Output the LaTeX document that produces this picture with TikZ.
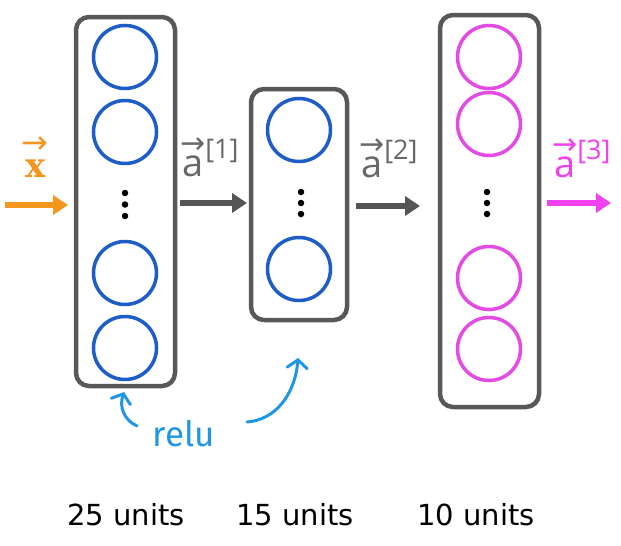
\documentclass[tikz,border=0pt]{standalone}
\usepackage{fontspec}
\setmainfont{Open Sans}
\newfontfamily\unitfont{DejaVu Sans}
\newfontfamily\arrowfont{DejaVu Sans}
\newfontfamily\xfont{DejaVu Serif}
\newfontfamily\relufont{Fira Sans}
\usetikzlibrary{arrows.meta}
\definecolor{boxgray}{RGB}{88,88,88}
\definecolor{arrgray}{RGB}{85,85,85}
\definecolor{labgray}{RGB}{104,104,104}
\definecolor{nblue}{RGB}{30,92,200}
\definecolor{nmag}{RGB}{228,74,228}
\definecolor{amag}{RGB}{240,64,240}
\definecolor{aorange}{RGB}{245,150,30}
\definecolor{rblue}{RGB}{32,150,230}
% letter with a small vector arrow above: {raise}{arrow size}{letter}
\newcommand{\vecover}[3]{\ooalign{#3\cr\hidewidth\raisebox{#1}{\arrowfont\mdseries\fontsize{#2}{#2}\selectfont →}\hidewidth\cr}}
\newcommand{\layersup}[1]{\kern2pt\raisebox{18pt}{\fontsize{27}{27}\selectfont[#1]}}
\tikzset{
  layerbox/.style={draw=boxgray, line width=4.5pt, rounded corners=13pt, inner sep=0pt, outer sep=0pt},
  neuron/.style={circle, draw=#1, line width=3.5pt, minimum size=63pt, inner sep=0pt},
  vdot/.style={circle, fill=black, inner sep=0pt, minimum size=6.5pt},
  bigarrow/.style={draw=#1, line width=6pt, -{Triangle[length=15pt,width=19pt]}, fill=#1},
  reluarrow/.style={draw=rblue, line width=3pt, line cap=round, -{Straight Barb[length=8pt,width=20pt,line cap=round]}},
  veclabel/.style={anchor=base west, inner sep=0pt, font=\fontsize{38}{38}\selectfont},
  unitlabel/.style={anchor=base, inner sep=0pt, font=\unitfont\fontsize{29}{29}\selectfont},
}
\begin{document}
\begin{tikzpicture}[x=1pt,y=-1pt]
\useasboundingbox[fill=white] (0,0) rectangle (621,546);
% layer boxes
\node[layerbox, minimum width=99pt, minimum height=369pt] (L1) at (125.5,201.5) {};
\node[layerbox, minimum width=96pt, minimum height=231pt] (L2) at (299,204.5) {};
\node[layerbox, minimum width=99pt, minimum height=392pt] (L3) at (489.5,211) {};
% neurons layer 1
\node[neuron=nblue] (n11) at (125,57) {};
\node[neuron=nblue] (n12) at (125,132) {};
\node[neuron=nblue] (n13) at (125,273) {};
\node[neuron=nblue] (n14) at (125,348) {};
\node[vdot] (d11) at (125,193) {};
\node[vdot] (d12) at (125,204.5) {};
\node[vdot] (d13) at (125,216) {};
% layer 2
\node[neuron=nblue] (n21) at (299,130) {};
\node[neuron=nblue] (n22) at (299,269) {};
\node[vdot] (d21) at (301,192) {};
\node[vdot] (d22) at (301,203) {};
\node[vdot] (d23) at (301,214) {};
% layer 3
\node[neuron=nmag] (n31) at (489,57) {};
\node[neuron=nmag] (n32) at (489,124) {};
\node[neuron=nmag] (n33) at (489,278) {};
\node[neuron=nmag] (n34) at (489,349) {};
\node[vdot] (d31) at (487,192) {};
\node[vdot] (d32) at (487,203) {};
\node[vdot] (d33) at (487,214) {};
% arrows
\coordinate (xin) at (5,205);
\coordinate (aout) at (611,203);
\draw[bigarrow=aorange] (xin) -- ([xshift=-8pt]xin -| L1.west);
\draw[bigarrow=arrgray] ([xshift=5pt,yshift=-1.5pt]L1.east) -- ([xshift=-4pt,yshift=-1.5pt]L1.east -| L2.west);
\draw[bigarrow=arrgray] ([xshift=9pt,yshift=-1.5pt]L2.east) -- ([xshift=-20pt,yshift=-1.5pt]L2.east -| L3.west);
\draw[bigarrow=amag] ([xshift=8pt]aout -| L3.east) -- (aout);
% labels
\node[veclabel, text=aorange, font={\xfont\bfseries\fontsize{34}{34}\selectfont}] (lx) at (25,177) {\vecover{24pt}{32}{x}};
\node[veclabel, text=labgray] (la1) at (182,176) {\vecover{23pt}{30}{a}\layersup{1}};
\node[veclabel, text=labgray] (la2) at (361,177) {\vecover{23pt}{30}{a}\layersup{2}};
\node[veclabel, text=amag] (la3) at (554,177) {\vecover{23pt}{30}{a}\layersup{3}};
% relu
\node[anchor=base, inner sep=0pt, text=rblue, font=\relufont\fontsize{35}{35}\selectfont] (relu) at (184,446) {relu};
\coordinate (r1s) at (137,426);
\coordinate (r1e) at (124,392);
\coordinate (r2s) at (247,422);
\coordinate (r2e) at (298,358);
\draw[reluarrow] (r1s) .. controls (124,420) and (119,407) .. (r1e);
\draw[reluarrow] (r2s) .. controls (275,420) and (295,395) .. (r2e);
% units
\node[unitlabel] (u1) at (126,525) {25 units};
\node[unitlabel] (u2) at (295,525) {15 units};
\node[unitlabel] (u3) at (476,525) {10 units};
\end{tikzpicture}
\end{document}
